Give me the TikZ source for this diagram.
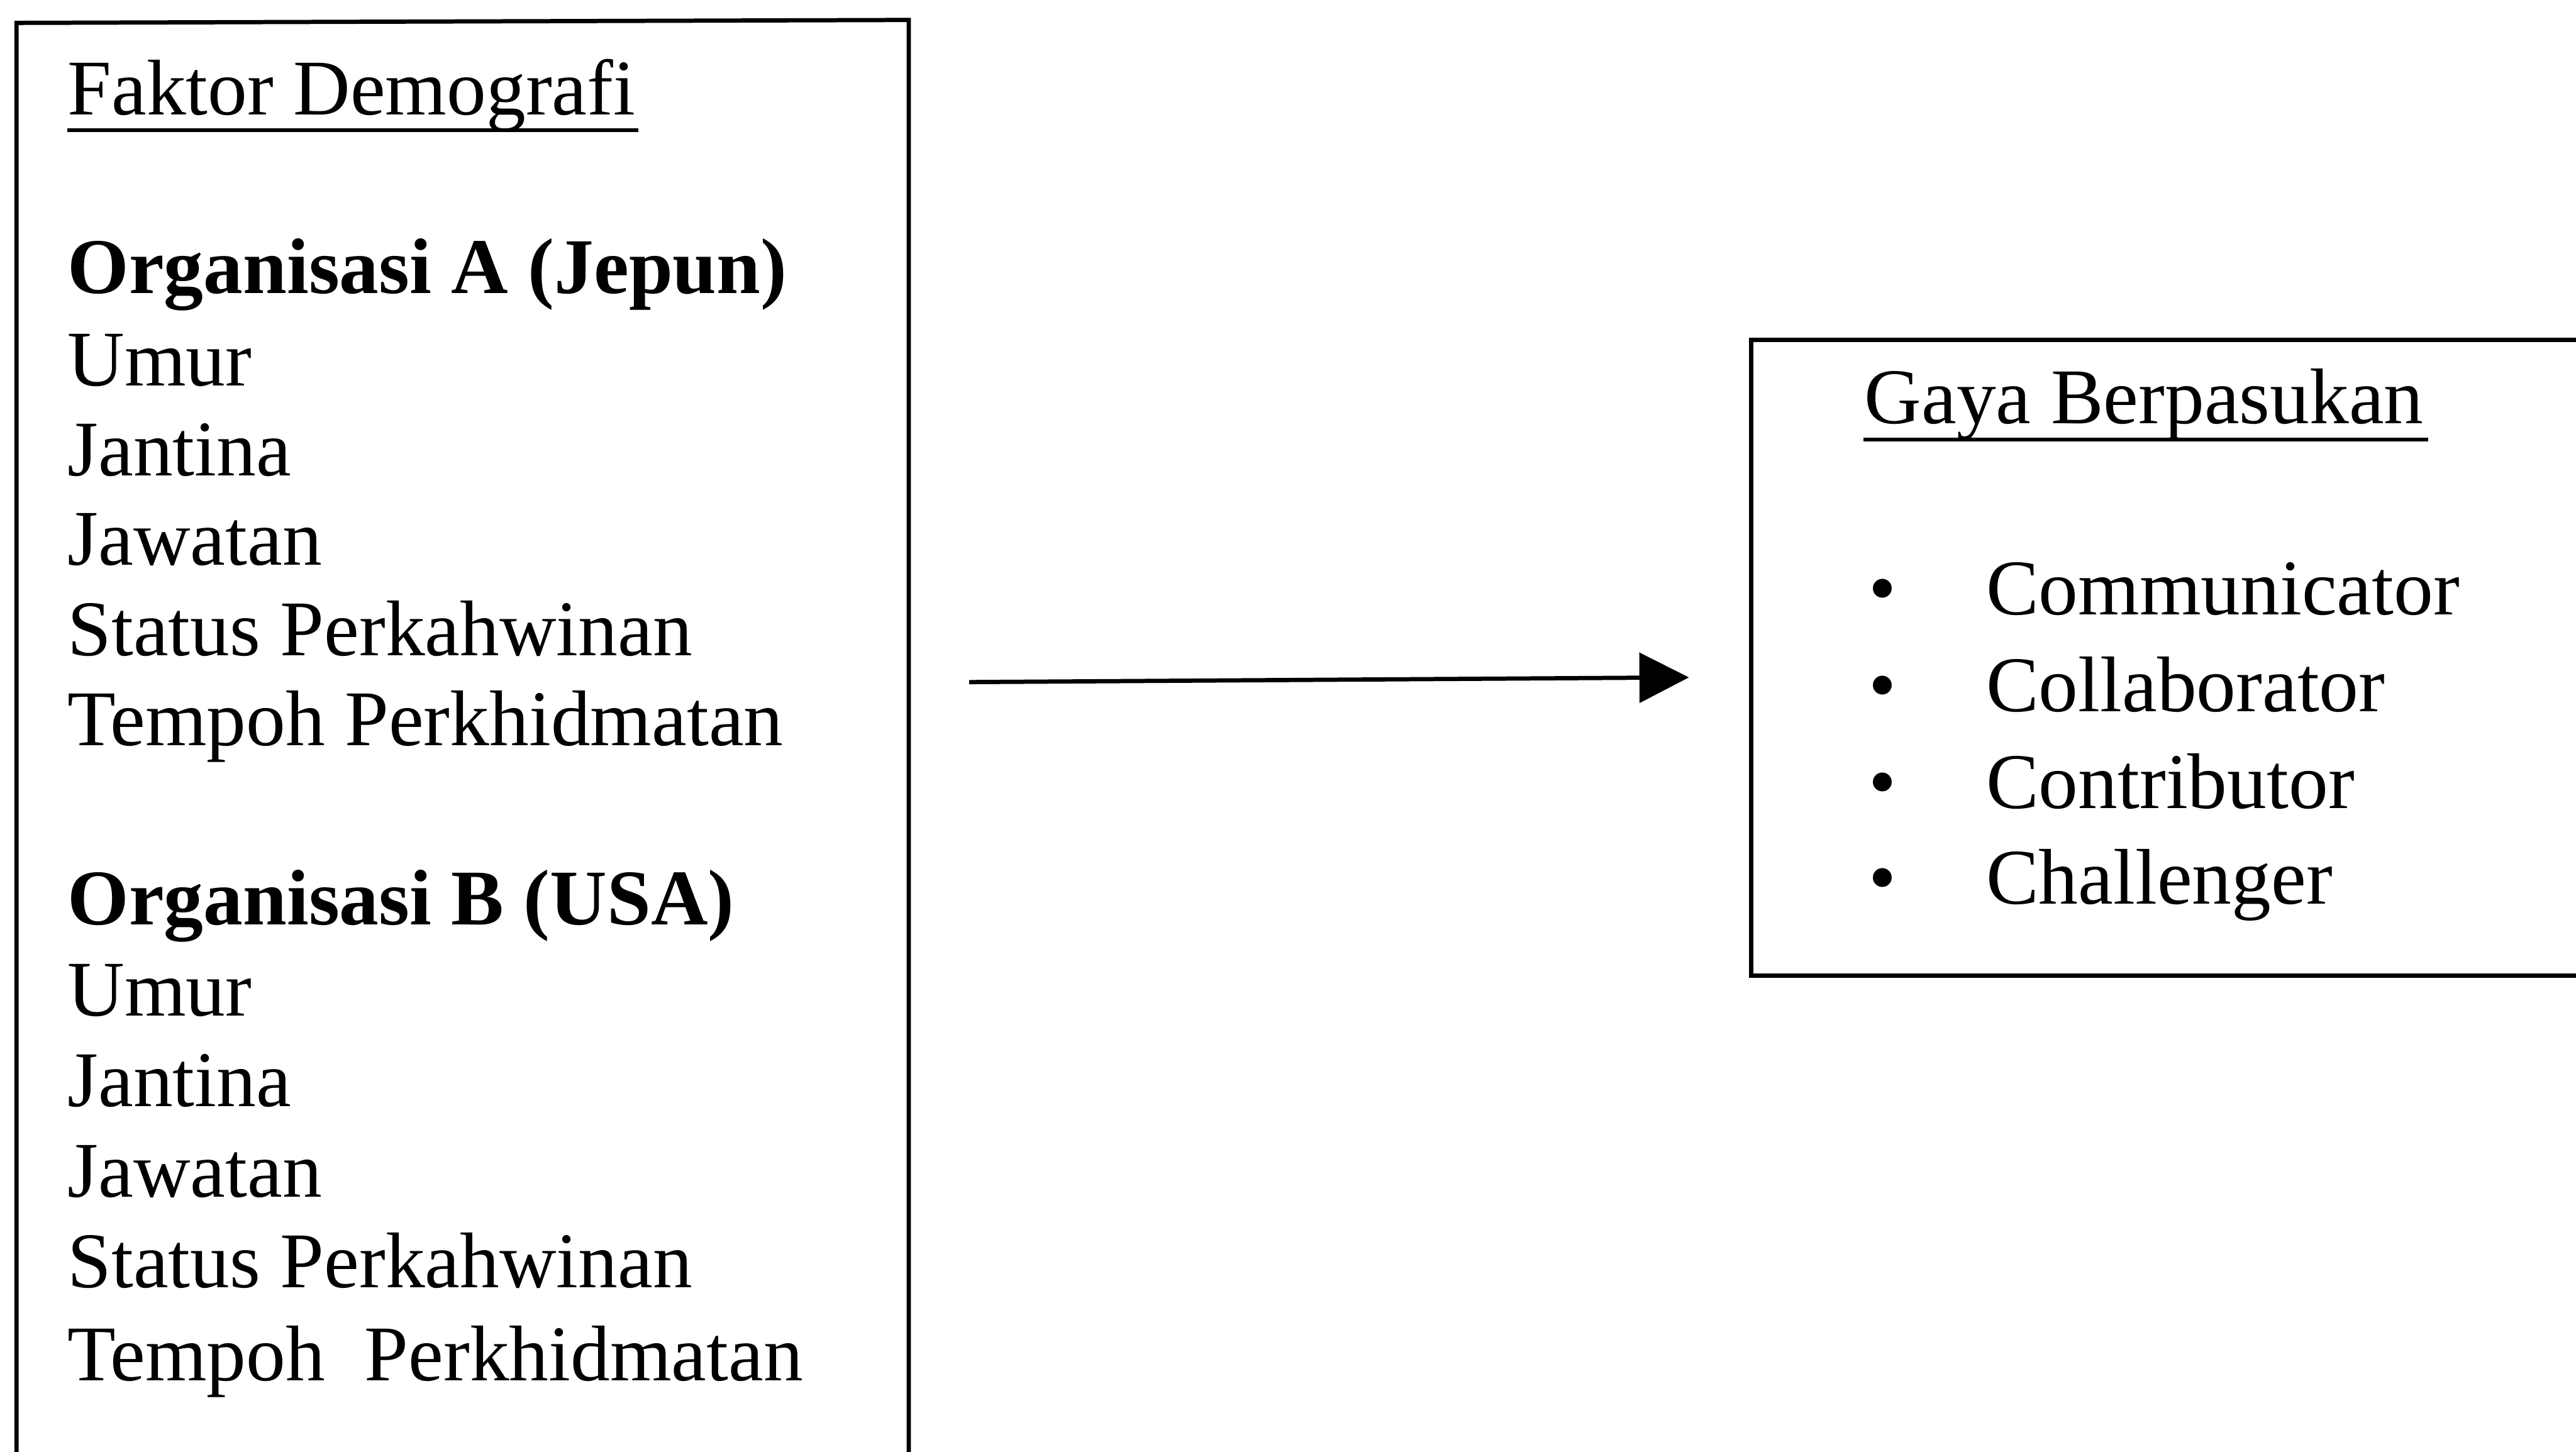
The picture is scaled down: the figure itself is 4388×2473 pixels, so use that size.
\documentclass[tikz,border=0pt]{standalone}
\usepackage{fontspec}
\setmainfont{Liberation Serif}
\usetikzlibrary{arrows.meta}
\begin{document}
\begin{tikzpicture}[x=0.09pt,y=-0.09pt,
  txt/.style={anchor=base west, inner sep=0pt, font=\fontsize{12.1pt}{14pt}\selectfont},
  bld/.style={anchor=base west, inner sep=0pt, font=\fontsize{12.1pt}{14pt}\selectfont\bfseries},
  blt/.style={anchor=base, inner sep=0pt, font=\fontsize{12.1pt}{14pt}\selectfont},
  boxline/.style={line width=0.65pt},
  uline/.style={line width=0.55pt}]
\useasboundingbox (0,0) rectangle (4388,2473);
\clip (0,0) rectangle (4388,2473);
% left box
\draw[boxline] (28,2600) -- (28,39) -- (1548,34) -- (1548,2600);
\node[txt] (fd) at (113,195) {Faktor Demografi};
\draw[uline] (115,222) -- (1087,222);
\node[bld] (oa) at (113,500) {Organisasi A (Jepun)};
\node[txt] (a1) at (113,657) {Umur};
\node[txt] (a2) at (113,810) {Jantina};
\node[txt] (a3) at (113,963) {Jawatan};
\node[txt] (a4) at (113,1117) {Status Perkahwinan};
\node[txt] (a5) at (113,1270) {Tempoh Perkhidmatan};
\node[bld] (ob) at (113,1575) {Organisasi B (USA)};
\node[txt] (b1) at (113,1731) {Umur};
\node[txt] (b2) at (113,1885) {Jantina};
\node[txt] (b3) at (113,2039) {Jawatan};
\node[txt] (b4) at (113,2193) {Status Perkahwinan};
\node[txt] (b5) at (113,2352) {Tempoh\ \ Perkhidmatan};
% right box
\draw[boxline] (4500,579) -- (2983,579) -- (2983,1662) -- (4500,1662);
\node[txt] (gb) at (3174,722) {Gaya Berpasukan};
\draw[uline] (3174,749) -- (4136,749);
\node[blt] (p1) at (3207,1047) {•};
\node[txt] (c1) at (3381,1047) {Communicator};
\node[blt] (p2) at (3207,1212) {•};
\node[txt] (c2) at (3381,1212) {Collaborator};
\node[blt] (p3) at (3207,1377) {•};
\node[txt] (c3) at (3381,1377) {Contributor};
\node[blt] (p4) at (3207,1540) {•};
\node[txt] (c4) at (3381,1540) {Challenger};
% arrow
\coordinate (as) at (1651,1162);
\coordinate (ae) at (2877,1154);
\draw[line width=0.65pt,-{Triangle[length=7.6pt,width=7.6pt]}] (as) -- (ae);
\end{tikzpicture}
\end{document}
